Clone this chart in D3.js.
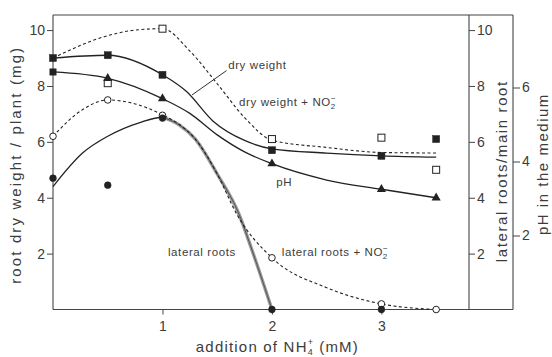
<!DOCTYPE html>
<html>
<head>
<meta charset="utf-8">
<script src="https://cdn.jsdelivr.net/npm/d3@7/dist/d3.min.js"></script>
<style>
    body { margin: 0; background: #fff; }
    text { font-family: "Liberation Sans", Arial, sans-serif; fill: #3c3c3c; }
</style>
</head>
<body>
<div id="wrapper"></div>
<script>
// measured points (x = addition of NH4+ in mM)
const xPoints = [0, 0.5, 1, 2, 3, 3.5]
const dryWeight = [9.0, 9.1, 8.4, 5.7, 5.5, 6.1]
const dryWeightNO2 = [null, 8.1, 10.05, 6.1, 6.15, 5.0]
const pH = [6.42, 6.25, 5.7, 3.94, 3.25, 3.02]
const lateralRoots = [4.7, 4.45, 6.85, 0, 0, null]
const lateralRootsNO2 = [6.2, 7.5, 6.95, 1.85, 0.2, 0]

const dryWeightFitX = [0, 0.5, 1, 1.22, 1.46, 1.75, 2, 2.5, 3, 3.5]
const dryWeightFit = [9.0, 9.1, 8.4, 7.8, 6.75, 6.05, 5.75, 5.6, 5.5, 5.45]
const dryWeightNO2FitX = [0, 0.5, 0.75, 1, 1.25, 1.5, 1.75, 2, 2.5, 3, 3.5]
const dryWeightNO2Fit = [9.0, 9.8, 10.0, 10.05, 9.25, 8.08, 6.87, 6.06, 5.8, 5.62, 5.6]
const pHFitX = [0, 0.5, 1, 1.25, 1.5, 1.75, 2, 2.5, 3, 3.5]
const pHFit = [6.42, 6.25, 5.7, 5.3, 4.72, 4.26, 3.94, 3.5, 3.25, 3.02]
const lateralFitX = [0, 0.27, 0.5, 0.8, 1, 1.155, 1.3, 1.5, 1.7, 1.82, 2]
const lateralFit = [4.4, 5.6, 6.2, 6.7, 6.88, 6.6, 6.1, 4.85, 3.4, 2.1, 0]
const lateralNO2FitX = [0, 0.25, 0.5, 1, 1.155, 1.3, 1.5, 1.68, 2, 2.5, 3, 3.5]
const lateralNO2Fit = [6.2, 7.1, 7.5, 6.97, 6.62, 6.1, 4.85, 3.4, 1.85, 0.78, 0.2, 0]

const xTicks = [1, 2, 3]
const leftTicks = [2, 4, 6, 8, 10]
const lateralTicks = [2, 4, 6, 8, 10]
const pHTicks = [2, 4, 6]

function drawChart() {
    let dimensions = {
        width: 552,
        height: 357,
        margin: {
            top: 15,
            right: 83,
            bottom: 47.5,
            left: 53,
        },
    };
    dimensions.boundedWidth = dimensions.width
        - dimensions.margin.left
        - dimensions.margin.right
    dimensions.boundedHeight = dimensions.height
        - dimensions.margin.top
        - dimensions.margin.bottom
    const pHAxisX = dimensions.boundedWidth + 44

    const wrapper = d3.select("#wrapper")
        .append("svg")
        .attr("width", dimensions.width)
        .attr("height", dimensions.height)

    const bounds = wrapper.append("g")
        .attr("transform", `translate(${dimensions.margin.left},${dimensions.margin.top})`)

    const xScale = d3.scaleLinear()
        .domain([0, 3.8])
        .range([0, dimensions.boundedWidth])
    const yScale = d3.scaleLinear()
        .domain([0, 10.54])
        .range([dimensions.boundedHeight, 0])
    // lateral roots / main root uses the same spacing as the left axis
    const yLateral = d3.scaleLinear()
        .domain([0, 10.54])
        .range([dimensions.boundedHeight, 0])
    const yPH = d3.scaleLinear()
        .domain([0, 7.96])
        .range([dimensions.boundedHeight, 0])

    const toPairs = (xs, ys) => xs.map((x, i) => [x, ys[i]]).filter(d => d[1] != null)

    // frame
    const frame = bounds.append("g")
        .attr("stroke", "#444")
        .attr("stroke-width", 1.1)
    frame.append("line").attr("x1", 0).attr("x2", 0).attr("y1", 0).attr("y2", dimensions.boundedHeight)
    frame.append("line").attr("x1", 0).attr("x2", pHAxisX).attr("y1", 0).attr("y2", 0)
    frame.append("line").attr("x1", 0).attr("x2", pHAxisX)
        .attr("y1", dimensions.boundedHeight).attr("y2", dimensions.boundedHeight)
    frame.append("line").attr("x1", dimensions.boundedWidth).attr("x2", dimensions.boundedWidth)
        .attr("y1", 0).attr("y2", dimensions.boundedHeight)
    frame.append("line").attr("x1", pHAxisX).attr("x2", pHAxisX)
        .attr("y1", 0).attr("y2", dimensions.boundedHeight)

    // axes
    const styleAxis = g => {
        g.select(".domain").remove()
        g.selectAll("line").attr("stroke", "#444").attr("stroke-width", 1)
        g.selectAll("text").attr("font-size", 14).style("font-family", "Liberation Sans, Arial, sans-serif").attr("fill", "#3c3c3c")
    }
    bounds.append("g")
        .call(d3.axisLeft(yScale).tickValues(leftTicks).tickSize(6).tickPadding(2).tickFormat(d3.format("d")))
        .call(styleAxis)
    bounds.append("g")
        .attr("transform", `translate(0,${dimensions.boundedHeight})`)
        .call(d3.axisBottom(xScale).tickValues(xTicks).tickSize(5).tickPadding(7).tickFormat(d3.format("d")))
        .call(styleAxis)
    bounds.append("g")
        .attr("transform", `translate(${dimensions.boundedWidth},0)`)
        .call(d3.axisRight(yLateral).tickValues(lateralTicks).tickSize(6).tickPadding(2).tickFormat(d3.format("d")))
        .call(styleAxis)
    bounds.append("g")
        .attr("transform", `translate(${pHAxisX},0)`)
        .call(d3.axisRight(yPH).tickValues(pHTicks).tickSize(7).tickPadding(2).tickFormat(d3.format("d")))
        .call(styleAxis)

    // curves
    const lineFor = y => d3.line()
        .x(d => xScale(d[0]))
        .y(d => y(d[1]))
        .curve(d3.curveMonotoneX)

    const lateralData = toPairs(lateralFitX, lateralFit)
    bounds.append("path")
        .attr("d", lineFor(yLateral)(lateralData))
        .attr("fill", "none").attr("stroke", "#222").attr("stroke-width", 1.3)
    // the falling part is drawn greyed and broad in the figure
    bounds.append("path")
        .attr("d", lineFor(yLateral)(lateralData.filter(d => d[0] >= 1)))
        .attr("fill", "none").attr("stroke", "#9a9a9a").attr("stroke-width", 3.4)
    bounds.append("path")
        .attr("d", lineFor(yLateral)(lateralData.filter(d => d[0] >= 1)))
        .attr("fill", "none").attr("stroke", "#555").attr("stroke-width", 1)

    bounds.append("path")
        .attr("d", lineFor(yLateral)(toPairs(lateralNO2FitX, lateralNO2Fit)))
        .attr("fill", "none").attr("stroke", "#222").attr("stroke-width", 1.1)
        .attr("stroke-dasharray", "3,2.5")
    bounds.append("path")
        .attr("d", lineFor(yScale)(toPairs(dryWeightFitX, dryWeightFit)))
        .attr("fill", "none").attr("stroke", "#222").attr("stroke-width", 1.3)
    bounds.append("path")
        .attr("d", lineFor(yScale)(toPairs(dryWeightNO2FitX, dryWeightNO2Fit)))
        .attr("fill", "none").attr("stroke", "#222").attr("stroke-width", 1.1)
        .attr("stroke-dasharray", "3,2.5")
    bounds.append("path")
        .attr("d", lineFor(yPH)(toPairs(pHFitX, pHFit)))
        .attr("fill", "none").attr("stroke", "#222").attr("stroke-width", 1.3)

    // markers
    const sq = 7
    const addSquares = (data, y, filled) => bounds.append("g")
        .selectAll("rect")
        .data(toPairs(xPoints, data))
        .enter()
        .append("rect")
        .attr("x", d => xScale(d[0]) - sq / 2)
        .attr("y", d => y(d[1]) - sq / 2)
        .attr("width", sq)
        .attr("height", sq)
        .attr("fill", filled ? "#222" : "#fff")
        .attr("stroke", "#222")
        .attr("stroke-width", filled ? 0.5 : 1)
    const addCircles = (data, y, filled) => bounds.append("g")
        .selectAll("circle")
        .data(toPairs(xPoints, data))
        .enter()
        .append("circle")
        .attr("cx", d => xScale(d[0]))
        .attr("cy", d => y(d[1]))
        .attr("r", filled ? 3.4 : 3.3)
        .attr("fill", filled ? "#222" : "#fff")
        .attr("stroke", "#222")
        .attr("stroke-width", filled ? 0.5 : 1)

    addSquares(dryWeightNO2, yScale, false)
    addSquares(dryWeight, yScale, true)
    addCircles(lateralRootsNO2, yLateral, false)
    addCircles(lateralRoots, yLateral, true)

    const pHPairs = toPairs(xPoints, pH)
    bounds.append("g")
        .selectAll("path")
        .data(pHPairs)
        .enter()
        .append("path")
        .attr("transform", d => `translate(${xScale(d[0])},${yPH(d[1])})`)
        .attr("d", (d, i) => i == 0
            ? d3.symbol(d3.symbolSquare, 49)()
            : d3.symbol(d3.symbolTriangle, 36)())
        .attr("fill", "#222")

    // curve labels
    const label = (x, y, size) => bounds.append("text")
        .attr("x", x)
        .attr("y", y)
        .attr("font-size", size)
        .attr("letter-spacing", 0.6)
    const addNO2 = t => {
        t.append("tspan").text("NO")
        t.append("tspan").attr("font-size", 8).attr("dy", -5).text("\u2212")
        t.append("tspan").attr("font-size", 8).attr("dx", -5.5).attr("dy", 8).text("2")
    }

    bounds.append("line")
        .attr("x1", xScale(1.27)).attr("y1", yScale(7.68))
        .attr("x2", xScale(1.585)).attr("y2", yScale(8.55))
        .attr("stroke", "#333").attr("stroke-width", 1)
    label(xScale(1.6), yScale(8.62), 11.5).text("dry weight")
    const dwNO2 = label(xScale(1.7), yScale(7.3), 11.5)
    dwNO2.append("tspan").text("dry weight + ")
    addNO2(dwNO2)
    label(xScale(2.04), yPH(3.33), 11.5).text("pH")
    label(xScale(1.05), yLateral(1.9), 11.5).text("lateral roots")
    const lrNO2 = label(xScale(2.09), yLateral(1.9), 11.5)
    lrNO2.append("tspan").text("lateral roots + ")
    addNO2(lrNO2)

    // axis titles
    const xTitle = wrapper.append("text")
        .attr("x", dimensions.margin.left + xScale(2.05))
        .attr("y", dimensions.height - 5)
        .attr("text-anchor", "middle")
        .attr("font-size", 15)
        .attr("letter-spacing", 1.2)
    xTitle.append("tspan").text("addition of NH")
    xTitle.append("tspan").attr("font-size", 9).attr("dy", -7).text("+")
    xTitle.append("tspan").attr("font-size", 9).attr("dx", -6.5).attr("dy", 10).text("4")
    xTitle.append("tspan").attr("dy", -3).text(" (mM)")

    // rotated titles: spread to the length they have in the figure,
    // then measured and centred on yCenter
    const sideTitle = (x, yCenter, length, text) => {
        const t = wrapper.append("text")
            .attr("font-size", 15)
            .text(text)
        const natural = t.node().getComputedTextLength()
        t.attr("letter-spacing", Math.max(0, (length - natural) / text.length))
        const box = t.node().getBBox()
        t.attr("transform", `translate(${x},${yCenter + box.x + box.width / 2}) rotate(-90)`)
    }
    sideTitle(21, dimensions.margin.top + yScale(5.18), 238, "root dry weight / plant (mg)")
    sideTitle(dimensions.margin.left + dimensions.boundedWidth + 38,
        dimensions.margin.top + yLateral(4.95), 182, "lateral roots/main root")
    sideTitle(dimensions.margin.left + pHAxisX + 35,
        dimensions.margin.top + yPH(3.93), 142, "pH in the medium")
}
drawChart();
</script>
</body>
</html>
